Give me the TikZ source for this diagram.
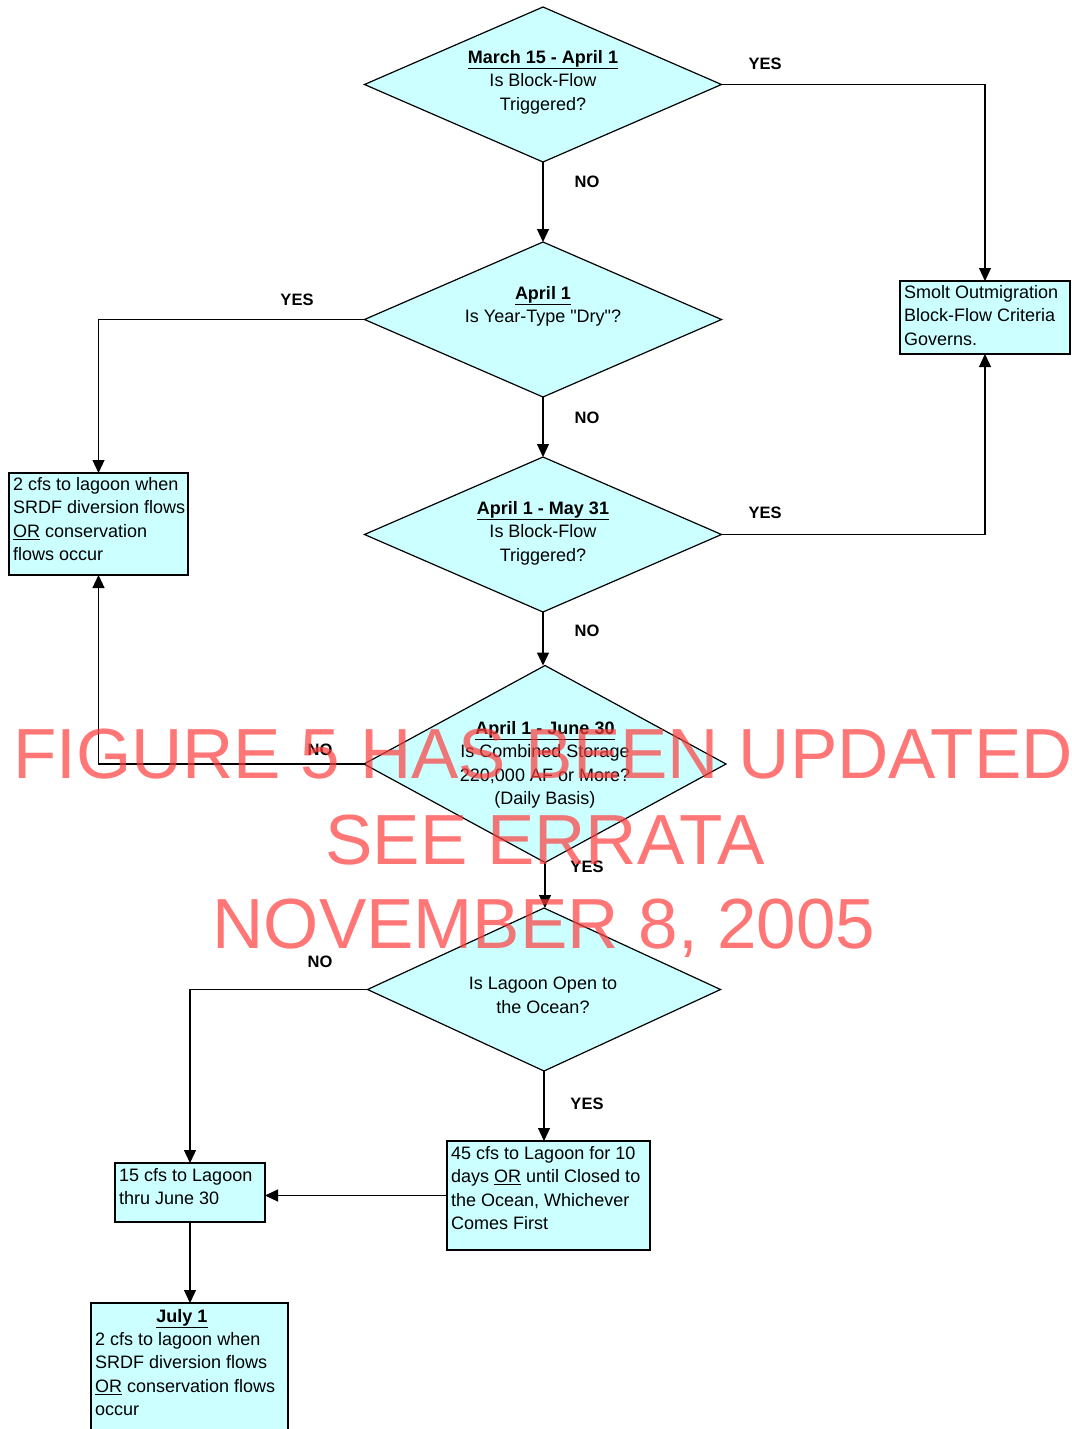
\documentclass[tikz,border=0pt]{standalone}
\usepackage{fontspec}
\setmainfont{Liberation Sans}[Ligatures=TeXOff]
\usetikzlibrary{shapes.geometric,arrows.meta}
\definecolor{boxcyan}{RGB}{204,255,255}
\definecolor{wmred}{RGB}{255,60,60}
\tikzset{
  dia/.style={shape=diamond,draw=black,fill=boxcyan,line width=1.2pt,inner sep=0pt,outer sep=0pt},
  box/.style={shape=rectangle,draw=black,fill=boxcyan,line width=1.2pt,inner sep=0pt,outer sep=0pt},
  txt/.style={inner sep=0pt,font=\fontsize{18}{23.5}\selectfont},
  lbl/.style={inner sep=0pt,font=\fontsize{16.5}{19}\selectfont\bfseries},
  arr/.style={line width=1.2pt,-{Triangle[length=13pt,width=12pt]}},
  wm/.style={inner sep=0pt,text=wmred,text opacity=0.7,font=\fontsize{71}{80}\selectfont},
}
\begin{document}
\begin{tikzpicture}[x=1pt,y=-1pt]
\useasboundingbox (0,0) rectangle (1071,1429);
\fill[white] (0,0) rectangle (1071,1429);
% diamonds
\node[dia,minimum width=357pt,minimum height=155pt] (d1) at (543,84.5) {};
\node[dia,minimum width=357pt,minimum height=155pt] (d2) at (543,319.5) {};
\node[dia,minimum width=357pt,minimum height=155pt] (d3) at (543,534.5) {};
\node[dia,minimum width=362pt,minimum height=197pt] (d4) at (545,764) {};
\node[dia,minimum width=353pt,minimum height=163pt] (d5) at (544,989.5) {};
% boxes
\node[box,minimum width=170pt,minimum height=73pt] (smolt) at (985,317.5) {};
\node[box,minimum width=179pt,minimum height=102pt] (lbox) at (98.5,524) {};
\node[box,minimum width=150pt,minimum height=59pt] (b15) at (190,1192.5) {};
\node[box,minimum width=203pt,minimum height=109pt] (b45) at (548.5,1195.5) {};
\node[box,minimum width=197pt,minimum height=135pt] (bjul) at (189.5,1370.5) {};
% diamond texts
\node[txt,align=center,anchor=north] (t1) at (543,50) {\textbf{\underline{March 15 - April 1}}\\Is Block-Flow\\Triggered?};
\node[txt,align=center,anchor=north] (t2) at (543,286) {\textbf{\underline{April 1}}\\Is Year-Type "Dry"?};
\node[txt,align=center,anchor=north] (t3) at (543,501) {\textbf{\underline{April 1 - May 31}}\\Is Block-Flow\\Triggered?};
\node[txt,align=center,anchor=north] (t4) at (545,721) {\textbf{\underline{April 1 - June 30}}\\Is Combined Storage\\220,000 AF or More?\\(Daily Basis)};
\node[txt,align=center,anchor=north] (t5) at (543,977) {Is Lagoon Open to\\the Ocean?};
% box texts
\node[txt,align=left,anchor=north west] (ts) at (904,285) {Smolt Outmigration\\Block-Flow Criteria\\Governs.};
\node[txt,align=left,anchor=north west] (tl) at (13,477) {2 cfs to lagoon when\\SRDF diversion flows\\\underline{OR} conservation\\flows occur};
\node[txt,align=left,anchor=north west] (t15) at (119,1168) {15 cfs to Lagoon\\thru June 30};
\node[txt,align=left,anchor=north west] (t45) at (451,1146) {45 cfs to Lagoon for 10\\days \underline{OR} until Closed to\\the Ocean, Whichever\\Comes First};
\node[txt,anchor=north] (tj1) at (182,1309) {\textbf{\underline{July 1}}};
\node[txt,align=left,anchor=north west] (tj2) at (95,1332) {2 cfs to lagoon when\\SRDF diversion flows\\\underline{OR} conservation flows\\occur};
% connectors
\draw[arr] (d1.east) -| (smolt.north);
\draw[arr] (d1.south) -- (d2.north);
\draw[arr] (d2.west) -| (lbox.north);
\draw[arr] (d2.south) -- (d3.north);
\draw[arr] (d3.east) -| (smolt.south);
\draw[arr] (d3.south) -- (d3.south |- d4.north);
\draw[arr] (d4.west) -| (lbox.south);
\draw[arr] (d4.south) -- (d4.south |- d5.north);
\draw[arr] (d5.west) -| (b15.north);
\draw[arr] (d5.south) -- (d5.south |- b45.north);
\draw[arr] (b45.west) -- (b45.west -| b15.east);
\draw[arr] (b15.south) -- (b15.south |- bjul.north);
% labels
\node[lbl] (l1) at (765,64) {YES};
\node[lbl] (l2) at (587,182) {NO};
\node[lbl] (l3) at (297,300) {YES};
\node[lbl] (l4) at (587,418) {NO};
\node[lbl] (l5) at (765,513) {YES};
\node[lbl] (l6) at (587,631) {NO};
\node[lbl] (l7) at (320,750) {NO};
\node[lbl] (l8) at (587,867) {YES};
\node[lbl] (l9) at (320,962) {NO};
\node[lbl] (l10) at (587,1104) {YES};
% watermark
\node[wm,anchor=base] (w1) at (543,778) {FIGURE 5 HAS BEEN UPDATED};
\node[wm,anchor=base] (w2) at (545,864) {SEE ERRATA};
\node[wm,anchor=base] (w3) at (544,948) {NOVEMBER 8, 2005};
\end{tikzpicture}
\end{document}
